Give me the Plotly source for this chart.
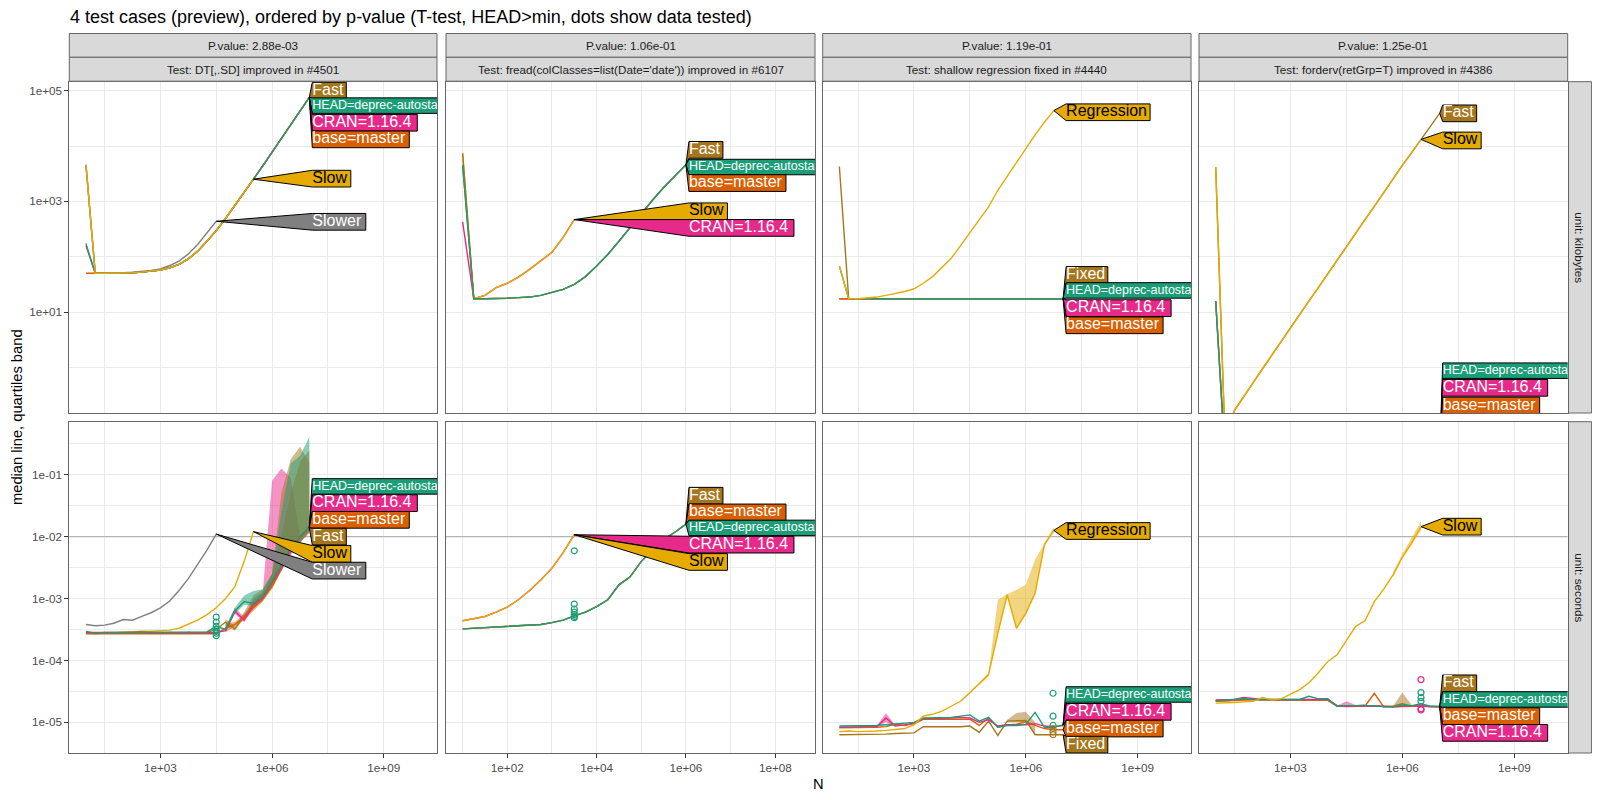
import plotly.graph_objects as go

# page is 1600x800; the plot div sits 8px in from the page corner (body margin)
PAGE_OFF = 8
FW, FH = 1584, 784
FONT = "Liberation Sans, Arial, sans-serif"

# ---------------- data: x = log10(N), y = log10(kilobytes) or log10(seconds) ----------------
LOGN = [1.0, 1.25, 1.5, 1.75, 2.0, 2.25, 2.5, 2.75, 3.0, 3.25, 3.5, 3.75,
        4.0, 4.25, 4.5, 4.75, 5.0, 5.25, 5.5, 5.75, 6.0, 6.25, 6.5, 6.75, 7.0]

STRIP_P = ["P.value: 2.88e-03", "P.value: 1.06e-01", "P.value: 1.19e-01", "P.value: 1.25e-01"]
STRIP_TEST = ["Test: DT[,.SD] improved in #4501",
              "Test: fread(colClasses=list(Date='date')) improved in #6107",
              "Test: shallow regression fixed in #4440",
              "Test: forderv(retGrp=T) improved in #4386"]
STRIP_UNIT = ["unit: kilobytes", "unit: seconds"]

X_TICKS = [[1e3, 1e6, 1e9], [1e2, 1e4, 1e6, 1e8], [1e3, 1e6, 1e9], [1e3, 1e6, 1e9]]
X_TICKTEXT = [["1e+03", "1e+06", "1e+09"], ["1e+02", "1e+04", "1e+06", "1e+08"],
              ["1e+03", "1e+06", "1e+09"], ["1e+03", "1e+06", "1e+09"]]
Y_TICKS = [[1e1, 1e3, 1e5], [1e-5, 1e-4, 1e-3, 1e-2, 1e-1]]
Y_TICKTEXT = [["1e+01", "1e+03", "1e+05"], ["1e-05", "1e-04", "1e-03", "1e-02", "1e-01"]]
TIME_LIMIT = 1e-2  # seconds, reference line in the time row

# panel 1: DT[,.SD] memory
kb1_tail = [1.70, 1.70, 1.70, 1.71, 1.71, 1.72, 1.74, 1.76, 1.80, 1.86, 1.96, 2.10,
            2.28, 2.47, 2.69, 2.92, 3.15, 3.40, 3.64, 3.89, 4.13, 4.38, 4.63, 4.88]
kb1_fast = [3.66] + kb1_tail
kb1_head = [2.24] + kb1_tail
kb1_cran = [2.20] + kb1_tail
kb1_base = [1.70] + kb1_tail
kb1_slow = [3.66] + kb1_tail[:18]
kb1_slower = [3.66, 1.70, 1.70, 1.70, 1.71, 1.72, 1.73, 1.75, 1.78, 1.84, 1.92, 2.05, 2.22, 2.42, 2.64]

# panel 2: fread memory
kb2_low_tail = [1.24, 1.24, 1.24, 1.25, 1.26, 1.27, 1.30, 1.35, 1.41, 1.50, 1.64, 1.83,
                2.04, 2.28, 2.53, 2.79, 3.02, 3.25, 3.45, 3.66]
kb2_up_tail = [1.24, 1.30, 1.44, 1.52, 1.63, 1.77, 1.92, 2.08, 2.35, 2.67]
kb2_fast = [3.87] + kb2_low_tail
kb2_head = [3.66] + kb2_low_tail
kb2_base = [3.66] + kb2_low_tail
kb2_cran = [2.63] + kb2_up_tail
kb2_slow = [3.87] + kb2_up_tail

# panel 3: shallow regression memory
kb3_flat = [1.24, 1.24, 1.24, 1.24, 1.24, 1.24, 1.24, 1.24, 1.24, 1.24, 1.24, 1.24,
            1.24, 1.24, 1.24, 1.24, 1.24, 1.24, 1.24, 1.24, 1.24, 1.24, 1.24, 1.24]
kb3_fixed = [3.63] + kb3_flat
kb3_head = [1.83] + kb3_flat
kb3_cran = [1.24] + kb3_flat
kb3_base = [1.24] + kb3_flat
kb3_reg = [1.83, 1.24, 1.24, 1.25, 1.27, 1.30, 1.33, 1.37, 1.42, 1.52, 1.64, 1.80,
           1.97, 2.20, 2.44, 2.68, 2.90, 3.20, 3.45, 3.70, 3.96, 4.20, 4.43, 4.64]

# panel 4: forderv memory
kb4_slow = [3.62, -1.30, -0.78, -0.52, -0.28, -0.03, 0.22, 0.46, 0.71, 0.95, 1.20, 1.44,
            1.69, 1.93, 2.18, 2.42, 2.67, 2.91, 3.16, 3.40, 3.65, 3.88, 4.12]
kb4_fast = kb4_slow + [4.36, 4.59]
kb4_low = [1.20, -1.60, -1.60, -1.60, -1.60, -1.60, -1.60, -1.60, -1.60, -1.60, -1.60, -1.60,
           -1.60, -1.60, -1.60, -1.60, -1.60, -1.60, -1.60, -1.60, -1.60, -1.60, -1.60, -1.60, -1.60]

# panel 5: DT[,.SD] seconds
s5_slower = [-3.42, -3.44, -3.43, -3.40, -3.34, -3.35, -3.29, -3.23, -3.15, -3.04, -2.87, -2.68,
             -2.45, -2.22, -1.96]
s5_slow = [-3.56, -3.57, -3.56, -3.55, -3.55, -3.54, -3.53, -3.53, -3.52, -3.51, -3.48, -3.42,
           -3.35, -3.26, -3.15, -3.00, -2.81, -2.40, -1.92]
s5_head = [-3.53, -3.56, -3.55, -3.55, -3.54, -3.55, -3.54, -3.55, -3.55, -3.55, -3.55, -3.54,
           -3.55, -3.54, -3.45, -3.50, -3.20, -3.05, -3.08, -2.96, -2.72, -2.45, -2.18, -2.00, -1.85]
s5_cran = [-3.55, -3.55, -3.56, -3.55, -3.55, -3.55, -3.54, -3.56, -3.56, -3.55, -3.56, -3.55,
           -3.56, -3.55, -3.55, -3.52, -3.20, -3.35, -3.10, -2.98, -2.75, -2.50, -2.20, -2.00, -1.86]
s5_base = [-3.57, -3.57, -3.56, -3.56, -3.57, -3.56, -3.56, -3.56, -3.57, -3.56, -3.57, -3.56,
           -3.57, -3.56, -3.57, -3.48, -3.42, -3.30, -3.15, -3.00, -2.80, -2.50, -2.22, -2.02, -1.86]
s5_fast = [-3.56, -3.56, -3.55, -3.56, -3.56, -3.55, -3.55, -3.56, -3.55, -3.56, -3.55, -3.55,
           -3.56, -3.55, -3.50, -3.38, -3.49, -3.28, -3.10, -2.98, -2.78, -2.48, -2.20, -2.00, -1.86]
b5_x = [4.75, 5.0, 5.25, 5.5, 5.75, 6.0, 6.25, 6.5, 6.75, 7.0]
b5_head_lo = [-3.52, -3.25, -3.10, -3.12, -3.02, -2.82, -2.55, -2.27, -2.10, -1.92]
b5_head_hi = [-3.45, -3.15, -2.95, -2.88, -2.85, -2.60, -1.60, -0.82, -0.70, -0.39]
b5_cran_lo = [-3.55, -3.25, -3.38, -3.15, -3.04, -2.80, -2.55, -2.30, -2.10, -1.92]
b5_cran_hi = [-3.48, -3.15, -3.30, -3.00, -2.90, -1.10, -0.90, -1.05, -2.00, -1.80]
b5_base_lo = [-3.55, -3.45, -3.35, -3.20, -3.05, -2.85, -2.55, -2.27, -2.08, -1.92]
b5_base_hi = [-3.40, -3.38, -3.25, -3.05, -2.90, -2.60, -2.00, -1.30, -0.80, -0.60]
b5_fast_lo = [-3.45, -3.52, -3.32, -3.15, -3.02, -2.82, -2.55, -2.27, -2.10, -1.95]
b5_fast_hi = [-3.33, -3.45, -3.22, -2.95, -2.85, -2.60, -1.30, -0.75, -0.55, -0.80]
d5_head = [-3.30, -3.38, -3.45, -3.50, -3.53, -3.56, -3.60]

# panel 6: fread seconds
s6_up = [-3.36, -3.33, -3.29, -3.22, -3.14, -3.02, -2.87, -2.70, -2.51, -2.26, -1.97]
s6_low = [-3.49, -3.48, -3.47, -3.47, -3.46, -3.44, -3.43, -3.42, -3.39, -3.35, -3.28, -3.22,
          -3.13, -3.02, -2.78, -2.65, -2.40, -2.22, -2.05, -1.93, -1.80]
d6_head = [-2.23, -3.09, -3.17, -3.22, -3.26, -3.29, -3.31]

# panel 7: shallow regression seconds
s7_reg = [-5.15, -5.14, -5.15, -5.15, -5.14, -5.13, -5.12, -5.10, -5.04, -4.90, -4.87, -4.82,
          -4.74, -4.66, -4.52, -4.38, -4.23, -3.56, -2.94, -3.48, -3.24, -2.91, -2.13, -1.90]
b7_x = [4.75, 5.0, 5.25, 5.5, 5.75, 6.0, 6.25, 6.5, 6.75]
b7_reg_lo = [-4.40, -4.26, -3.60, -2.96, -3.50, -3.26, -2.93, -2.15, -1.93]
b7_reg_hi = [-4.36, -4.20, -3.02, -2.93, -2.86, -2.78, -2.37, -2.10, -1.85]
s7_head = [-5.06, -5.06, -5.05, -5.06, -5.05, -5.04, -5.03, -5.02, -5.00, -4.93, -4.93, -4.93,
           -4.92, -4.90, -4.88, -4.98, -4.92, -5.08, -5.05, -5.05, -5.03, -4.84, -5.08, -5.08, -5.04]
s7_cran = [-5.08, -5.08, -5.07, -5.06, -5.07, -4.93, -5.06, -5.04, -5.01, -4.94, -4.94, -4.94,
           -4.93, -4.92, -4.93, -5.00, -4.96, -5.06, -5.04, -5.04, -5.04, -5.02, -5.06, -5.07, -5.05]
s7_base = [-5.09, -5.09, -5.08, -5.08, -5.08, -5.07, -5.03, -5.05, -5.02, -4.95, -4.95, -4.96,
           -4.95, -4.95, -4.95, -5.05, -4.93, -5.08, -5.04, -5.03, -4.99, -5.05, -5.10, -5.12, -5.12]
s7_fixed = [-5.20, -5.20, -5.20, -5.19, -5.19, -5.19, -5.18, -5.18, -5.17, -5.07, -5.07, -5.08,
            -5.08, -5.07, -5.06, -5.16, -4.98, -5.21, -4.98, -4.98, -4.97, -5.20, -5.20, -5.20, -5.20]
b7_cran_x = [2.0, 2.25, 2.5]
b7_cran_lo = [-5.08, -5.00, -5.07]
b7_cran_hi = [-5.06, -4.85, -5.05]
b7_fixed_x = [5.5, 5.75, 6.0, 6.25]
b7_fixed_lo = [-5.00, -5.00, -4.99, -5.20]
b7_fixed_hi = [-4.96, -4.85, -4.83, -5.00]
d7_head = [-4.53, -4.90, -5.05]
d7_fixed = [-5.10, -5.15, -5.20]

# panel 8: forderv seconds
s8_slow = [-4.69, -4.69, -4.68, -4.67, -4.66, -4.60, -4.64, -4.62, -4.55, -4.47, -4.36, -4.20,
           -4.02, -3.91, -3.68, -3.45, -3.36, -3.05, -2.85, -2.62, -2.33, -2.10, -1.84]
b8_slow_x = [5.75, 6.0, 6.25, 6.5]
b8_slow_lo = [-2.66, -2.36, -2.14, -1.90]
b8_slow_hi = [-2.58, -2.28, -2.02, -1.75]
s8_head = [-4.65, -4.64, -4.62, -4.62, -4.63, -4.63, -4.64, -4.63, -4.63, -4.63, -4.58, -4.62,
           -4.62, -4.74, -4.73, -4.73, -4.74, -4.73, -4.75, -4.75, -4.72, -4.73, -4.70, -4.74, -4.74]
s8_cran = [-4.64, -4.64, -4.63, -4.60, -4.62, -4.63, -4.63, -4.63, -4.64, -4.64, -4.63, -4.63,
           -4.63, -4.73, -4.74, -4.73, -4.74, -4.73, -4.74, -4.75, -4.74, -4.74, -4.73, -4.75, -4.75]
s8_base = [-4.66, -4.66, -4.65, -4.64, -4.63, -4.63, -4.64, -4.64, -4.64, -4.64, -4.64, -4.64,
           -4.64, -4.74, -4.74, -4.75, -4.74, -4.53, -4.75, -4.75, -4.74, -4.74, -4.74, -4.75, -4.75]
s8_fast = [-4.66, -4.65, -4.63, -4.63, -4.63, -4.64, -4.64, -4.64, -4.64, -4.64, -4.64, -4.64,
           -4.64, -4.73, -4.74, -4.74, -4.74, -4.74, -4.74, -4.74, -4.70, -4.74, -4.73, -4.74, -4.75]
b8_fast_x = [5.75, 6.0, 6.25]
b8_fast_lo = [-4.75, -4.72, -4.75]
b8_fast_hi = [-4.74, -4.52, -4.72]
b8_cran_x = [4.25, 4.5, 4.75, 5.0]
b8_cran_lo = [-4.74, -4.76, -4.75, -4.75]
b8_cran_hi = [-4.73, -4.66, -4.72, -4.70]
d8_cran = [-4.31, -4.78, -4.80]
d8_head = [-4.52, -4.60, -4.66]

# ---------------- styles / layout ----------------
COLORS = {"head": "#1B9E77", "cran": "#E7298A", "base": "#D95F02", "fast": "#A6761D",
          "slow": "#E6AB02", "slower": "#808080", "reg": "#E6AB02", "fixed": "#A6761D"}
TEXTS = {"head": "HEAD=deprec-autostart", "cran": "CRAN=1.16.4", "base": "base=master",
         "fast": "Fast", "slow": "Slow", "slower": "Slower", "reg": "Regression", "fixed": "Fixed"}
TEXT_COL = {"slow": "black", "reg": "black"}
LABEL_W = {"head": 150, "cran": 105, "base": 97, "fast": 34, "slow": 38.5, "slower": 53.5,
           "reg": 84, "fixed": 41.7}

# page-pixel geometry
COL_PX = [(69.3, 437.0), (446.0, 815.0), (822.7, 1191.0), (1199.0, 1567.7)]
ROW_PX = [(81.7, 413.0), (421.7, 753.0)]
X_RANGES = [(0.553, 10.43), (0.628, 8.889), (0.553, 10.43), (0.553, 10.43)]
Y_RANGES = [(-0.825, 5.162), (-5.495, -0.145)]
X_MINOR = [[10 ** 1.5, 10 ** 4.5, 10 ** 7.5], [1e1, 1e3, 1e5, 1e7], [10 ** 1.5, 10 ** 4.5, 10 ** 7.5],
           [10 ** 1.5, 10 ** 4.5, 10 ** 7.5]]
Y_MINOR = [[1e0, 1e2, 1e4], [10 ** -4.5, 10 ** -3.5, 10 ** -2.5, 10 ** -1.5, 10 ** -0.5]]


def fx(px):
    return (px - PAGE_OFF) / FW


def fy(py):
    return 1 - (py - PAGE_OFF) / FH


PANELS = [
    dict(series=[("fast", kb1_fast), ("cran", kb1_cran), ("base", kb1_base), ("head", kb1_head),
                 ("slower", kb1_slower), ("slow", kb1_slow)],
         labels=[("fast", 5.00), ("head", 4.73), ("cran", 4.42), ("base", 4.12), ("slow", 3.41),
                 ("slower", 2.63)]),
    dict(series=[("cran", kb2_cran), ("slow", kb2_slow), ("fast", kb2_fast), ("base", kb2_base),
                 ("head", kb2_head)],
         labels=[("fast", 3.93), ("head", 3.62), ("base", 3.33), ("slow", 2.82), ("cran", 2.52)]),
    dict(series=[("fixed", kb3_fixed), ("cran", kb3_cran), ("base", kb3_base), ("head", kb3_head),
                 ("reg", kb3_reg)],
         labels=[("reg", 4.61), ("fixed", 1.67), ("head", 1.39), ("cran", 1.07), ("base", 0.76)]),
    dict(series=[("cran", kb4_low), ("base", kb4_low), ("head", kb4_low), ("fast", kb4_fast),
                 ("slow", kb4_slow)],
         labels=[("fast", 4.59), ("slow", 4.10), ("head", -0.06), ("cran", -0.37), ("base", -0.69)]),
    dict(series=[("slower", s5_slower), ("slow", s5_slow), ("fast", s5_fast), ("base", s5_base),
                 ("cran", s5_cran), ("head", s5_head)],
         bands=[("cran", b5_x, b5_cran_lo, b5_cran_hi), ("fast", b5_x, b5_fast_lo, b5_fast_hi),
                ("base", b5_x, b5_base_lo, b5_base_hi), ("head", b5_x, b5_head_lo, b5_head_hi)],
         dots=[("head", 4.5, d5_head)],
         labels=[("head", -1.19), ("cran", -1.46), ("base", -1.73), ("fast", -2.00), ("slow", -2.28),
                 ("slower", -2.55)]),
    dict(series=[("cran", s6_up), ("slow", s6_up), ("fast", s6_low), ("base", s6_low), ("head", s6_low)],
         dots=[("head", 3.5, d6_head)],
         labels=[("fast", -1.34), ("base", -1.61), ("head", -1.86), ("cran", -2.13), ("slow", -2.41)]),
    dict(series=[("fixed", s7_fixed), ("base", s7_base), ("cran", s7_cran), ("head", s7_head),
                 ("reg", s7_reg)],
         bands=[("reg", b7_x, b7_reg_lo, b7_reg_hi), ("cran", b7_cran_x, b7_cran_lo, b7_cran_hi),
                ("fixed", b7_fixed_x, b7_fixed_lo, b7_fixed_hi)],
         dots=[("head", 6.73, d7_head), ("fixed", 6.73, d7_fixed)],
         labels=[("reg", -1.91), ("head", -4.55), ("cran", -4.83), ("base", -5.10), ("fixed", -5.36)]),
    dict(series=[("fast", s8_fast), ("base", s8_base), ("cran", s8_cran), ("head", s8_head),
                 ("slow", s8_slow)],
         bands=[("slow", b8_slow_x, b8_slow_lo, b8_slow_hi), ("fast", b8_fast_x, b8_fast_lo, b8_fast_hi),
                ("cran", b8_cran_x, b8_cran_lo, b8_cran_hi)],
         dots=[("cran", 6.5, d8_cran), ("head", 6.5, d8_head)],
         labels=[("slow", -1.84), ("fast", -4.37), ("head", -4.63), ("base", -4.90), ("cran", -5.17)]),
]


def p10(v):
    return [10 ** t for t in v]


def rgba(h, a):
    h = h.lstrip("#")
    return "rgba(%d,%d,%d,%.2f)" % (int(h[0:2], 16), int(h[2:4], 16), int(h[4:6], 16), a)


fig = go.Figure()

for k, panel in enumerate(PANELS):
    r, c = divmod(k, 4)
    sfx = "" if k == 0 else str(k + 1)
    xa, ya = "x" + sfx, "y" + sfx
    common = dict(xaxis=xa, yaxis=ya, showlegend=False, hoverinfo="skip")
    ppx = (COL_PX[c][1] - COL_PX[c][0]) / (X_RANGES[c][1] - X_RANGES[c][0])
    ppy = (ROW_PX[r][1] - ROW_PX[r][0]) / (Y_RANGES[r][1] - Y_RANGES[r][0])

    if r == 1:
        fig.add_trace(go.Scatter(x=[10 ** X_RANGES[c][0], 10 ** X_RANGES[c][1]],
                                 y=[TIME_LIMIT, TIME_LIMIT], mode="lines",
                                 line=dict(color="#B3B3B3", width=1.3), **common))

    for key, bx, lo, hi in panel.get("bands", []):
        fig.add_trace(go.Scatter(x=p10(bx + bx[::-1]), y=p10(hi + lo[::-1]), fill="toself",
                                 fillcolor=rgba(COLORS[key], 0.5), line=dict(width=0), mode="lines",
                                 **common))
    ends = {}
    for key, ys in panel["series"]:
        xs = LOGN[:len(ys)]
        ends[key] = (xs[-1], ys[-1])
        fig.add_trace(go.Scatter(x=p10(xs), y=p10(ys), mode="lines",
                                 line=dict(color=COLORS[key], width=1.4), **common))
    for key, dx, dys in panel.get("dots", []):
        fig.add_trace(go.Scatter(x=p10([dx] * len(dys)), y=p10(dys), mode="markers",
                                 marker=dict(symbol="circle-open", size=6, color=COLORS[key],
                                             line=dict(width=1.2)), **common))
    box_left = max(e[0] for e in ends.values()) + 3.0 / ppx
    for key, cy in panel["labels"]:
        tx, ty = ends[key]
        w = LABEL_W[key] / ppx
        h = (15.5 if key == "head" else 16.7) / ppy
        pxs = [tx, box_left, box_left + w, box_left + w, box_left, tx]
        pys = [ty, cy + h / 2, cy + h / 2, cy - h / 2, cy - h / 2, ty]
        fig.add_trace(go.Scatter(x=p10(pxs), y=p10(pys), mode="lines", fill="toself",
                                 fillcolor=COLORS[key], line=dict(color="black", width=1), **common))
        fig.add_trace(go.Scatter(x=[10 ** box_left], y=[10 ** cy], mode="text", text=[TEXTS[key]],
                                 textposition="middle right", cliponaxis=True,
                                 textfont=dict(family=FONT, size=12.5 if key == "head" else 16,
                                               color=TEXT_COL.get(key, "white")), **common))

    axis_line = dict(showline=True, mirror=True, linecolor="#666666", linewidth=1, zeroline=False,
                     showgrid=True, gridcolor="#EBEBEB", gridwidth=1.4)
    fig.update_layout(**{
        "xaxis" + sfx: dict(type="log", range=list(X_RANGES[c]), anchor=ya,
                            domain=[fx(COL_PX[c][0]), fx(COL_PX[c][1])],
                            tickmode="array", tickvals=X_TICKS[c], ticktext=X_TICKTEXT[c],
                            showticklabels=(r == 1), ticks="outside" if r == 1 else "",
                            ticklen=4, tickcolor="#333333", tickwidth=1,
                            tickfont=dict(family=FONT, size=11.7, color="#4D4D4D"),
                            minor=dict(tickmode="array", tickvals=X_MINOR[c], showgrid=True,
                                       gridcolor="#EBEBEB", gridwidth=0.7, ticks=""),
                            **axis_line),
        "yaxis" + sfx: dict(type="log", range=list(Y_RANGES[r]), anchor=xa,
                            domain=[fy(ROW_PX[r][1]), fy(ROW_PX[r][0])],
                            tickmode="array", tickvals=Y_TICKS[r], ticktext=Y_TICKTEXT[r],
                            showticklabels=(c == 0), ticks="outside" if c == 0 else "",
                            ticklen=4, tickcolor="#333333", tickwidth=1,
                            tickfont=dict(family=FONT, size=11.7, color="#4D4D4D"),
                            minor=dict(tickmode="array", tickvals=Y_MINOR[r], showgrid=True,
                                       gridcolor="#EBEBEB", gridwidth=0.7, ticks=""),
                            **axis_line),
    })

shapes, annotations = [], []
STRIP_ROWS = [(33.5, 57.3), (57.3, 81.2)]
for c in range(4):
    for i, (y0, y1) in enumerate(STRIP_ROWS):
        shapes.append(dict(type="rect", xref="paper", yref="paper", x0=fx(COL_PX[c][0]),
                           x1=fx(COL_PX[c][1]), y0=fy(y1), y1=fy(y0),
                           fillcolor="#D9D9D9", line=dict(color="#666666", width=1)))
        annotations.append(dict(xref="paper", yref="paper", x=fx((COL_PX[c][0] + COL_PX[c][1]) / 2),
                                y=fy((y0 + y1) / 2), text=(STRIP_P if i == 0 else STRIP_TEST)[c],
                                showarrow=False, xanchor="center", yanchor="middle",
                                font=dict(family=FONT, size=11.7, color="#1A1A1A")))
for r in range(2):
    shapes.append(dict(type="rect", xref="paper", yref="paper", x0=fx(1568.5), x1=fx(1591.6),
                       y0=fy(ROW_PX[r][1]), y1=fy(ROW_PX[r][0]),
                       fillcolor="#D9D9D9", line=dict(color="#666666", width=1)))
    annotations.append(dict(xref="paper", yref="paper", x=fx(1580.0),
                            y=fy((ROW_PX[r][0] + ROW_PX[r][1]) / 2), text=STRIP_UNIT[r],
                            textangle=90, showarrow=False, xanchor="center", yanchor="middle",
                            font=dict(family=FONT, size=11.7, color="#1A1A1A")))

annotations += [
    dict(xref="paper", yref="paper", x=fx(67.5), y=fy(17), xanchor="left", yanchor="middle",
         showarrow=False, font=dict(family=FONT, size=18, color="black"),
         text="4 test cases (preview), ordered by p-value (T-test, HEAD>min, dots show data tested)"),
    dict(xref="paper", yref="paper", x=fx(17), y=fy(417), textangle=-90, showarrow=False,
         xanchor="center", yanchor="middle", font=dict(family=FONT, size=14.7, color="black"),
         text="median line, quartiles band"),
    dict(xref="paper", yref="paper", x=fx(818), y=fy(784), showarrow=False,
         xanchor="center", yanchor="middle", font=dict(family=FONT, size=14.7, color="black"),
         text="N"),
]

fig.update_layout(width=FW, height=FH, autosize=False, margin=dict(l=0, r=0, t=0, b=0),
                  paper_bgcolor="white", plot_bgcolor="white", showlegend=False,
                  shapes=shapes, annotations=annotations, font=dict(family=FONT))

fig.write_html("out.html")
